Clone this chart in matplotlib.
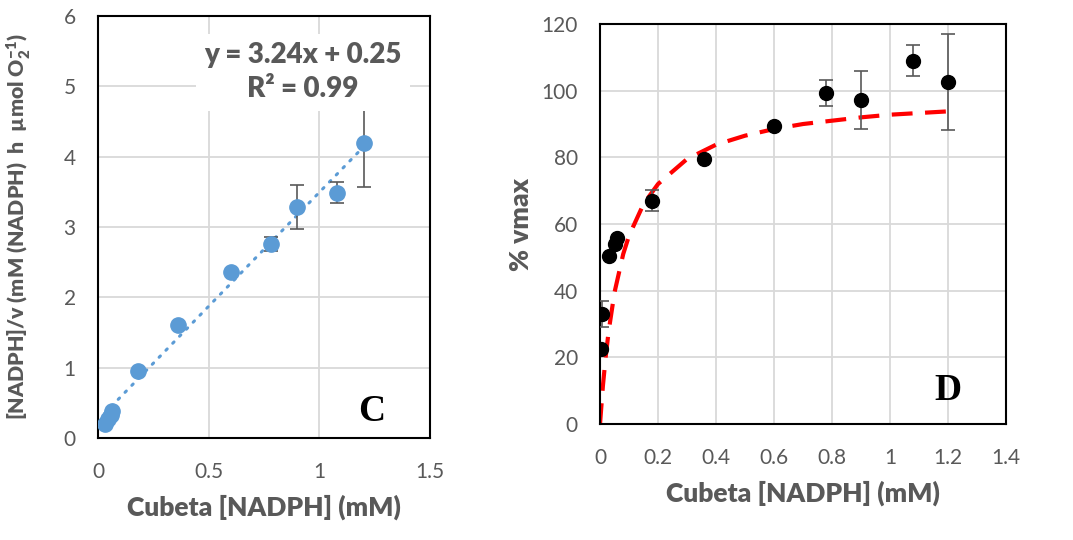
import matplotlib.pyplot as plt

plt.rcParams['font.family'] = ['Lato', 'DejaVu Sans']
plt.rcParams['mathtext.fontset'] = 'custom'
plt.rcParams['mathtext.rm'] = 'Lato'
plt.rcParams['mathtext.bf'] = 'Lato:heavy'

GRAY = '#595959'
GRID = '#D9D9D9'

# Panel C: Hanes-Woolf plot
c_x = [0.03, 0.045, 0.06, 0.065, 0.18, 0.36, 0.60, 0.78, 0.90, 1.08, 1.20]
c_y = [0.20, 0.27, 0.33, 0.38, 0.95, 1.60, 2.36, 2.76, 3.28, 3.49, 4.19]
c_err = [0, 0, 0, 0, 0, 0, 0, 0.10, 0.31, 0.15, 0.62]
c_trend_x = [0.03, 1.20]
c_trend_y = [0.35, 4.14]

# Panel D: % vmax vs NADPH
d_x = [0.003, 0.006, 0.03, 0.05, 0.06, 0.18, 0.36, 0.60, 0.78, 0.90, 1.08, 1.20]
d_y = [22.5, 33.0, 50.5, 54.0, 55.8, 67.0, 79.5, 89.3, 99.3, 97.2, 109.0, 102.5]
d_err = [0, 4.0, 0, 0, 0, 3.2, 0, 0, 3.8, 8.7, 4.7, 14.4]
# Michaelis-Menten fit curve
fit_x = [0, 0.01, 0.02, 0.03, 0.05, 0.08, 0.10, 0.15, 0.20, 0.30, 0.40, 0.50,
         0.60, 0.70, 0.80, 0.90, 1.00, 1.10, 1.20]
fit_y = [0, 11.5, 20.5, 28.0, 39.5, 51.0, 56.5, 66.0, 72.0, 79.5, 83.8, 86.5,
         88.5, 90.0, 91.0, 92.0, 92.8, 93.3, 93.8]

fig = plt.figure(figsize=(10.73, 5.4), dpi=100)
ax1 = fig.add_axes([0.0913, 0.1889, 0.3094, 0.7815])
ax2 = fig.add_axes([0.5592, 0.2148, 0.3784, 0.7407])


def style(ax):
    ax.grid(True, color=GRID, linewidth=1.3)
    ax.set_axisbelow(True)
    for s in ax.spines.values():
        s.set_color('black')
        s.set_linewidth(1.5)
    ax.tick_params(length=0, labelsize=15, labelcolor=GRAY)


# --- Panel C ---
ax1.plot(c_trend_x, c_trend_y, color='#5B9BD5', linewidth=2.2,
         linestyle=(0, (0.6, 2.6)), dash_capstyle='round', zorder=2)
ax1.errorbar(c_x, c_y, yerr=c_err, fmt='none', ecolor=GRAY, elinewidth=1.2,
             capsize=5, capthick=1.2, zorder=3)
ax1.plot(c_x, c_y, 'o', color='#5B9BD5', markersize=11, zorder=4)
ax1.set_xlim(0, 1.5)
ax1.set_ylim(0, 6)
ax1.set_xticks([0, 0.5, 1, 1.5])
ax1.set_xticklabels(['0', '0.5', '1', '1.5'])
ax1.set_yticks(range(0, 7))
style(ax1)
ax1.tick_params(axis='x', pad=17)
ax1.tick_params(axis='y', pad=16)
ax1.set_xlabel('Cubeta [NADPH] (mM)', fontsize=19, fontweight='heavy', color=GRAY)
ax1.xaxis.set_label_coords(0.5, -0.133)
ax1.set_ylabel(r'[NADPH]/v (mM (NADPH)  h  µmol O$\mathbf{_2^{-1}}$)',
               fontsize=15.3, fontweight='heavy', color=GRAY)
ax1.yaxis.set_label_coords(-0.196, 0.5)
ax1.text(0.926, 5.2, 'y = 3.24x + 0.25\nR² = 0.99', ha='center', va='center',
         fontsize=20, fontweight='heavy', color=GRAY, linespacing=1.4,
         bbox=dict(facecolor='white', edgecolor='none', pad=6), zorder=5)
ax1.text(0.825, 0.062, 'C', transform=ax1.transAxes, ha='center', va='center',
         fontsize=27, fontweight='bold', family='Liberation Serif')

# --- Panel D ---
ax2.plot(fit_x, fit_y, color='red', linewidth=3, linestyle=(0, (5, 3)),
         zorder=2)
ax2.errorbar(d_x, d_y, yerr=d_err, fmt='none', ecolor=GRAY, elinewidth=1.2,
             capsize=5, capthick=1.2, zorder=3)
ax2.plot(d_x, d_y, 'o', color='black', markersize=10, zorder=4)
ax2.set_xlim(0, 1.4)
ax2.set_ylim(0, 120)
ax2.set_xticks([0, 0.2, 0.4, 0.6, 0.8, 1, 1.2, 1.4])
ax2.set_xticklabels(['0', '0.2', '0.4', '0.6', '0.8', '1', '1.2', '1.4'])
ax2.set_yticks(range(0, 121, 20))
style(ax2)
ax2.tick_params(axis='x', pad=17)
ax2.tick_params(axis='y', pad=16)
ax2.set_xlabel('Cubeta [NADPH] (mM)', fontsize=19, fontweight='heavy', color=GRAY)
ax2.xaxis.set_label_coords(0.5, -0.14)
ax2.set_ylabel('% vmax', fontsize=19, fontweight='heavy', color=GRAY)
ax2.yaxis.set_label_coords(-0.165, 0.5)
ax2.text(0.857, 0.085, 'D', transform=ax2.transAxes, ha='center', va='center',
         fontsize=27, fontweight='bold', family='Liberation Serif')

plt.savefig('out.png', dpi=100)
